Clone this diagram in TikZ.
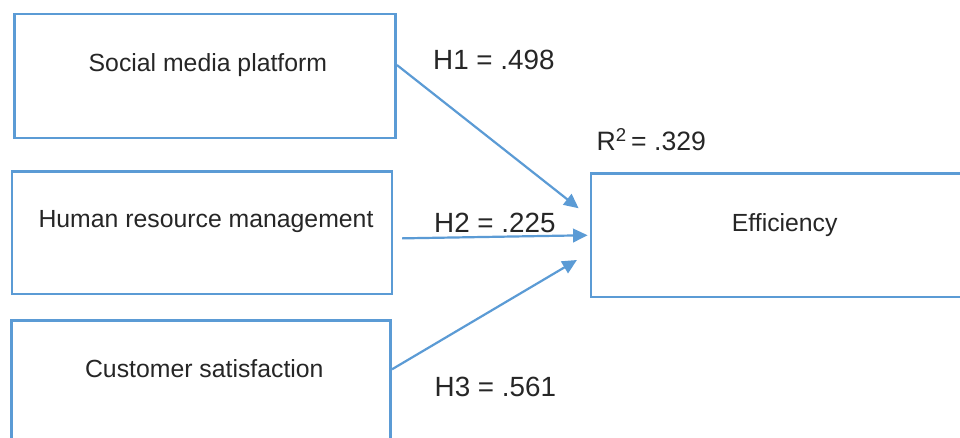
\documentclass[tikz,border=0pt]{standalone}
\usepackage{fontspec}
\setmainfont{Liberation Sans}
\usetikzlibrary{arrows.meta,calc}

\definecolor{boxblue}{HTML}{5B9BD5}
\definecolor{ink}{HTML}{262626}

\tikzset{
  varbox/.style={draw=boxblue, line width=2.8pt, rectangle, inner sep=0pt},
  boxtext/.style={anchor=base, inner sep=0pt, text=ink,
    font=\fontsize{24.8}{30}\selectfont},
  coef/.style={anchor=base west, inner sep=0pt, text=ink,
    font=\fontsize{27.8}{33}\selectfont},
  path arrow/.style={draw=boxblue, line width=2.2pt,
    -{Triangle[length=14.5pt,width=13.5pt]}}
}

\begin{document}
\begin{tikzpicture}[x=1pt,y=-1pt]
  \useasboundingbox (0,0) rectangle (960,437);
  \clip (0,0) rectangle (960,437);
  \fill[white] (0,0) rectangle (960,437);

  % construct boxes
  \node[varbox, minimum width=381.2pt, minimum height=124pt] (smp) at (204.9,76) {};
  \node[varbox, minimum width=380pt,   minimum height=122.7pt] (hrm) at (202,232.65) {};
  \node[varbox, minimum width=379.4pt, minimum height=124pt] (cs)  at (200.9,382.5) {};
  \node[varbox, minimum width=387pt,   minimum height=123.5pt] (eff) at (784.5,235.25) {};

  % construct names
  \node[boxtext] (smpt) at ($(smp.north)+(3,58.7)$) {Social media platform};
  \node[boxtext] (hrmt) at ($(hrm.north)+(4,58)$) {Human resource management};
  \node[boxtext] (cst)  at ($(cs.north)+(3.4,58.5)$) {Customer satisfaction};
  \node[boxtext] (efft) at ($(eff.north)+(0.2,59.8)$) {Efficiency};

  % arrow ends at the outcome box
  \coordinate (tip1) at ($(eff.west)+(-11,-27)$);
  \coordinate (tip2) at ($(eff.west)+(-2,0)$);
  \coordinate (tip3) at ($(eff.west)+(-12.7,24.75)$);

  % structural paths
  \draw[path arrow] ($(smp.east)+(0,-11)$) -- (tip1);
  \draw[path arrow] ($(hrm.east)+(8.7,5.7)$) -- (tip2);
  \draw[path arrow] ($(cs.east)+(0,-13.2)$) -- (tip3);

  % path coefficients and explained variance
  \node[coef] (h1) at (433,69.3) {H1 = .498};
  \node[coef] (h2) at (434,232.7) {H2 = .225};
  \node[coef] (h3) at (434.5,396.7) {H3 = .561};
  \node[coef, font=\fontsize{26.6}{32}\selectfont] (r2) at (596.5,150.7)
    {R\textsuperscript{2}\,= .329};
\end{tikzpicture}
\end{document}
